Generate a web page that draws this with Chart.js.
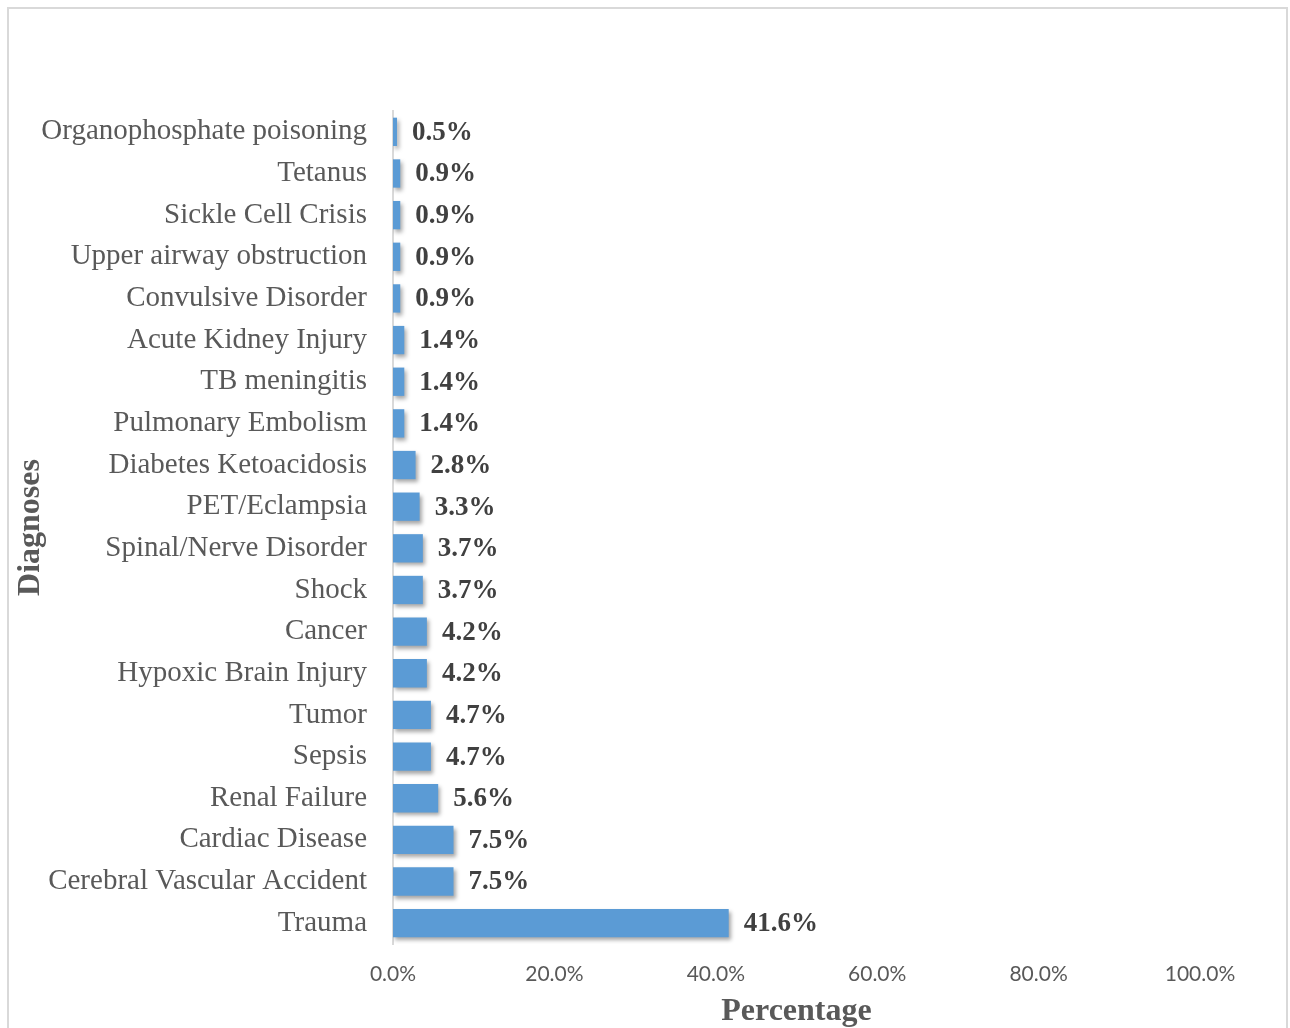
<!DOCTYPE html>
<html>
<head>
<meta charset="utf-8">
<script src="https://cdn.jsdelivr.net/npm/chart.js@4.4.1/dist/chart.umd.min.js"></script>
<style>
  html, body { margin: 0; padding: 0; background: #fff; }
  #wrap { position: relative; width: 1290px; height: 1028px; overflow: hidden; }
  #frame {
    position: absolute; left: 7px; top: 7px; width: 1277px; height: 1040px;
    border: 2px solid #d9d9d9; pointer-events: none;
  }
  canvas { position: absolute; left: 0; top: 0; }
</style>
</head>
<body>
<div id="wrap">
  <canvas id="chart" width="1290" height="1028"></canvas>
  <div id="frame"></div>
</div>
<script>
// Diagnoses share (%), listed top to bottom
const diagnoses = [
  'Organophosphate poisoning', 'Tetanus', 'Sickle Cell Crisis', 'Upper airway obstruction',
  'Convulsive Disorder', 'Acute Kidney Injury', 'TB meningitis', 'Pulmonary Embolism',
  'Diabetes Ketoacidosis', 'PET/Eclampsia', 'Spinal/Nerve Disorder', 'Shock', 'Cancer',
  'Hypoxic Brain Injury', 'Tumor', 'Sepsis', 'Renal Failure', 'Cardiac Disease',
  'Cerebral Vascular Accident', 'Trauma'
];
const percentages = [
  0.5, 0.9, 0.9, 0.9, 0.9, 1.4, 1.4, 1.4, 2.8, 3.3,
  3.7, 3.7, 4.2, 4.2, 4.7, 4.7, 5.6, 7.5, 7.5, 41.6
];
const xTicks = [0, 20, 40, 60, 80, 100];

const SERIF = '"Liberation Serif", "Times New Roman", serif';

// drop shadow under the bars
const barShadow = {
  id: 'barShadow',
  beforeDatasetsDraw(chart) {
    const ctx = chart.ctx;
    ctx.save();
    ctx.shadowColor = 'rgba(0,0,0,0.35)';
    ctx.shadowBlur = 4;
    ctx.shadowOffsetX = 2;
    ctx.shadowOffsetY = 3;
  },
  afterDatasetsDraw(chart) {
    chart.ctx.restore();
  }
};

// value labels at the bar ends
const valueLabels = {
  id: 'valueLabels',
  afterDraw(chart) {
    const ctx = chart.ctx;
    const meta = chart.getDatasetMeta(0);
    ctx.save();
    ctx.font = 'bold 27px ' + SERIF;
    ctx.fillStyle = '#404040';
    ctx.textAlign = 'left';
    ctx.textBaseline = 'middle';
    meta.data.forEach((bar, i) => {
      ctx.fillText(percentages[i].toFixed(1) + '%', bar.x + 15, bar.y + 1);
    });
    ctx.restore();
  }
};

new Chart(document.getElementById('chart'), {
  type: 'bar',
  data: {
    labels: diagnoses,
    datasets: [{
      data: percentages,
      backgroundColor: '#5b9bd5',
      borderWidth: 0,
      barPercentage: 0.68,
      categoryPercentage: 1.0
    }]
  },
  options: {
    indexAxis: 'y',
    responsive: false,
    animation: false,
    layout: { padding: { top: 111, right: 90, left: 13, bottom: 0 } },
    plugins: { legend: { display: false }, tooltip: { enabled: false } },
    scales: {
      x: {
        min: 0, max: 100,
        afterBuildTicks(scale) { scale.ticks = xTicks.map(v => ({ value: v })); },
        afterFit(scale) { scale.height = 84; },
        grid: { display: false, drawTicks: false },
        border: { display: false },
        ticks: {
          padding: 18,
          color: '#595959',
          font: { family: 'Lato, "Open Sans", sans-serif', size: 21 },
          callback: v => v.toFixed(1) + '%'
        },
        title: {
          display: true, text: 'Percentage', color: '#595959',
          font: { family: SERIF, size: 32, weight: 'bold', lineHeight: 1 },
          padding: { top: 0, bottom: 0 }
        }
      },
      y: {
        afterFit(scale) { scale.width = 380; },
        grid: { display: false, drawTicks: false },
        border: { display: true, color: '#d9d9d9', width: 2 },
        ticks: {
          padding: 26,
          color: '#595959',
          autoSkip: false,
          font: { family: SERIF, size: 29 }
        },
        title: {
          display: true, text: 'Diagnoses', color: '#595959',
          font: { family: SERIF, size: 32, weight: 'bold', lineHeight: 1.1 },
          padding: { top: 0, bottom: 0 }
        }
      }
    }
  },
  plugins: [barShadow, valueLabels]
});
</script>
</body>
</html>
